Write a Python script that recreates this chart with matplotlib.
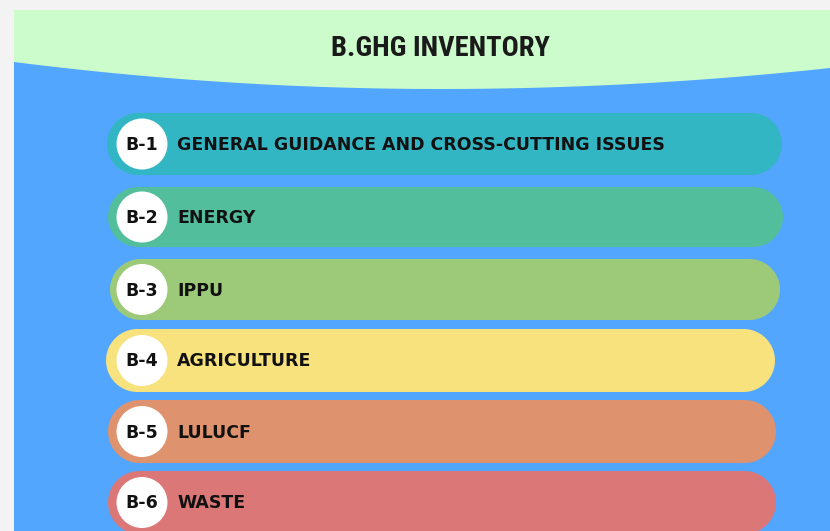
import numpy as np
import matplotlib.pyplot as plt
from matplotlib.patches import Rectangle, Circle, Polygon

codes = ['B-1', 'B-2', 'B-3', 'B-4', 'B-5', 'B-6']
labels = ['GENERAL GUIDANCE AND CROSS-CUTTING ISSUES', 'ENERGY', 'IPPU',
          'AGRICULTURE', 'LULUCF', 'WASTE']
colors = ['#33b6c3', '#53be9b', '#9dca78', '#f8e27e', '#df926e', '#db7777']
title = 'B.GHG INVENTORY'

# pill geometry (pixels): top, bottom, left, right
tops = [113, 187, 259, 329, 400, 471]
bottoms = [175, 247, 320, 392, 463, 534]
lefts = [107, 108, 110, 106, 108, 108]
rights = [782, 783, 780, 775, 776, 776]

W, H = 830, 531
fig = plt.figure(figsize=(W / 100, H / 100), dpi=100)
fig.patch.set_facecolor('#f3f3f3')
ax = fig.add_axes([0, 0, 1, 1])
ax.set_xlim(0, W)
ax.set_ylim(H, 0)
ax.axis('off')

# blue panel
ax.add_patch(Rectangle((14, 10), W - 14, H - 10, fc='#52a6fe', ec='none'))
# green header with curved bottom
xs = np.linspace(14, W, 200)
ys = np.where(xs < 440, 89 - 27 * ((xs - 440) / 426) ** 2,
              89 - 21 * ((xs - 440) / 390) ** 2)
pts = [(14, 10)] + list(zip(xs, ys)) + [(W, 10)]
ax.add_patch(Polygon(pts, closed=True, fc='#ccfccb', ec='none'))
ax.text(440, 48, title, ha='center', va='center', fontsize=20.5, fontweight='bold',
        family=['Roboto Condensed', 'Roboto'], color='#1a1a1a')


def pill(l, r, t, b, col):
    rad = (b - t) / 2
    cy = (t + b) / 2
    th = np.linspace(np.pi / 2, 3 * np.pi / 2, 40)
    left = np.c_[l + rad + rad * np.cos(th), cy - rad * np.sin(th)]
    th2 = np.linspace(-np.pi / 2, np.pi / 2, 40)
    right = np.c_[r - rad + rad * np.cos(th2), cy - rad * np.sin(th2)]
    ax.add_patch(Polygon(np.vstack([left, right]), closed=True, fc=col, ec='none'))


for code, lab, col, t, b, l, r in zip(codes, labels, colors, tops, bottoms, lefts, rights):
    pill(l, r, t, b, col)
    cy = (t + b) / 2
    ax.add_patch(Circle((142, cy), 25.5, fc='white', ec='none'))
    ax.text(142, cy + 1, code, ha='center', va='center', fontsize=12.5,
            fontweight='heavy', family='DejaVu Sans', color='#111111')
    ax.text(177, cy + 1, lab, ha='left', va='center', fontsize=12.5,
            fontweight='heavy', family='DejaVu Sans', color='#111111')

fig.savefig('out.png', dpi=100, facecolor=fig.get_facecolor())
